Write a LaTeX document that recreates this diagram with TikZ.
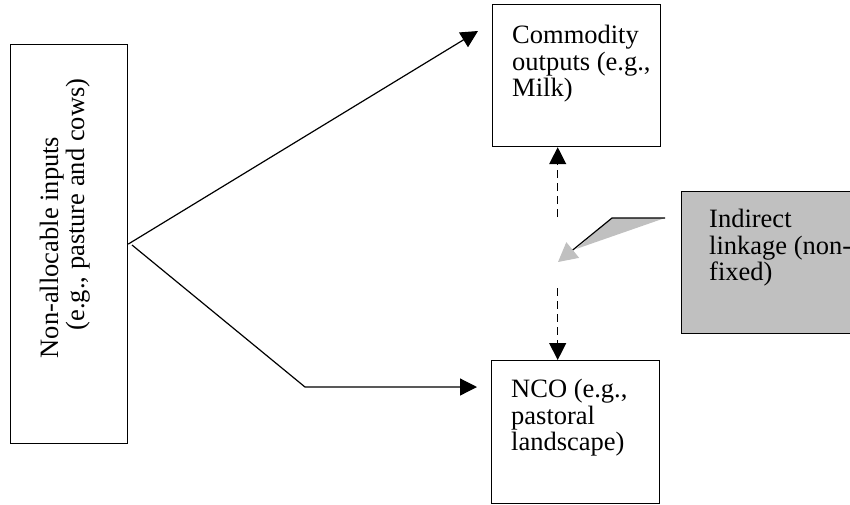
\documentclass[tikz,border=0pt]{standalone}
\usepackage{fontspec}
\setmainfont{Liberation Serif}
\usetikzlibrary{arrows.meta}
\definecolor{boxgray}{RGB}{192,192,192}
\tikzset{
  boxshape/.style={draw=black, line width=1.2pt, rectangle, inner sep=0pt, anchor=north west},
  txt/.style={font=\fontsize{26.5}{26.5}\selectfont, inner sep=0pt, align=left, anchor=north west},
  conn/.style={draw=black, line width=1.2pt, -{Triangle[length=17pt,width=17pt]}},
  dconn/.style={conn, dash pattern=on 8pt off 5pt},
}
\begin{document}
\begin{tikzpicture}[x=1pt,y=-1pt]
\useasboundingbox (0,0) rectangle (850,504);
% boxes
\node[boxshape, minimum width=117pt, minimum height=399pt] (inp) at (10,44) {};
\node[boxshape, minimum width=168pt, minimum height=142pt] (com) at (492,4) {};
\node[boxshape, minimum width=168pt, minimum height=143pt] (nco) at (491,360) {};
\node[boxshape, fill=boxgray, minimum width=180pt, minimum height=142pt] (ind) at (681,191) {};
% texts
\node[txt, rotate=90, anchor=base] (inpa) at (58,247.5) {Non-allocable inputs};
\node[txt, rotate=90, anchor=base] (inpb) at (84,204.5) {(e.g., pasture and cows)};
\node[txt] (comt) at (512,25) {Commodity\\outputs (e.g.,\\Milk)};
\node[txt] (ncot) at (511,379) {NCO (e.g.,\\pastoral\\landscape)};
\node[txt] (indt) at (709,209) {Indirect\\linkage (non-\\fixed)};
% coordinates
\coordinate (t1) at (478,31);
\coordinate (b1) at (132,245);
\coordinate (b2) at (305,387);
\coordinate (t2) at (477,387);
\coordinate (du) at (557.7,217);
\coordinate (dd) at (557.7,288);
\coordinate (c1) at (665,218);
\coordinate (c2) at (612,218);
\coordinate (c3) at (576,249);
\coordinate (ctip) at (558,262);
% solid connectors
\draw[conn] (inp.east) -- (t1);
\draw[conn] (b1) -- (b2) -- (t2);
% dashed connectors
\draw[dconn] (du) -- (du |- com.south);
\draw[dconn] (dd) -- (dd |- nco.north);
% callout pointer
\fill[boxgray] (c2) -- (c1) -- (c3) -- cycle;
\draw[line width=1.2pt, -{Triangle[length=19pt,width=20pt,color=boxgray]}] (c1) -- (c2) -- (ctip);
\end{tikzpicture}
\end{document}
